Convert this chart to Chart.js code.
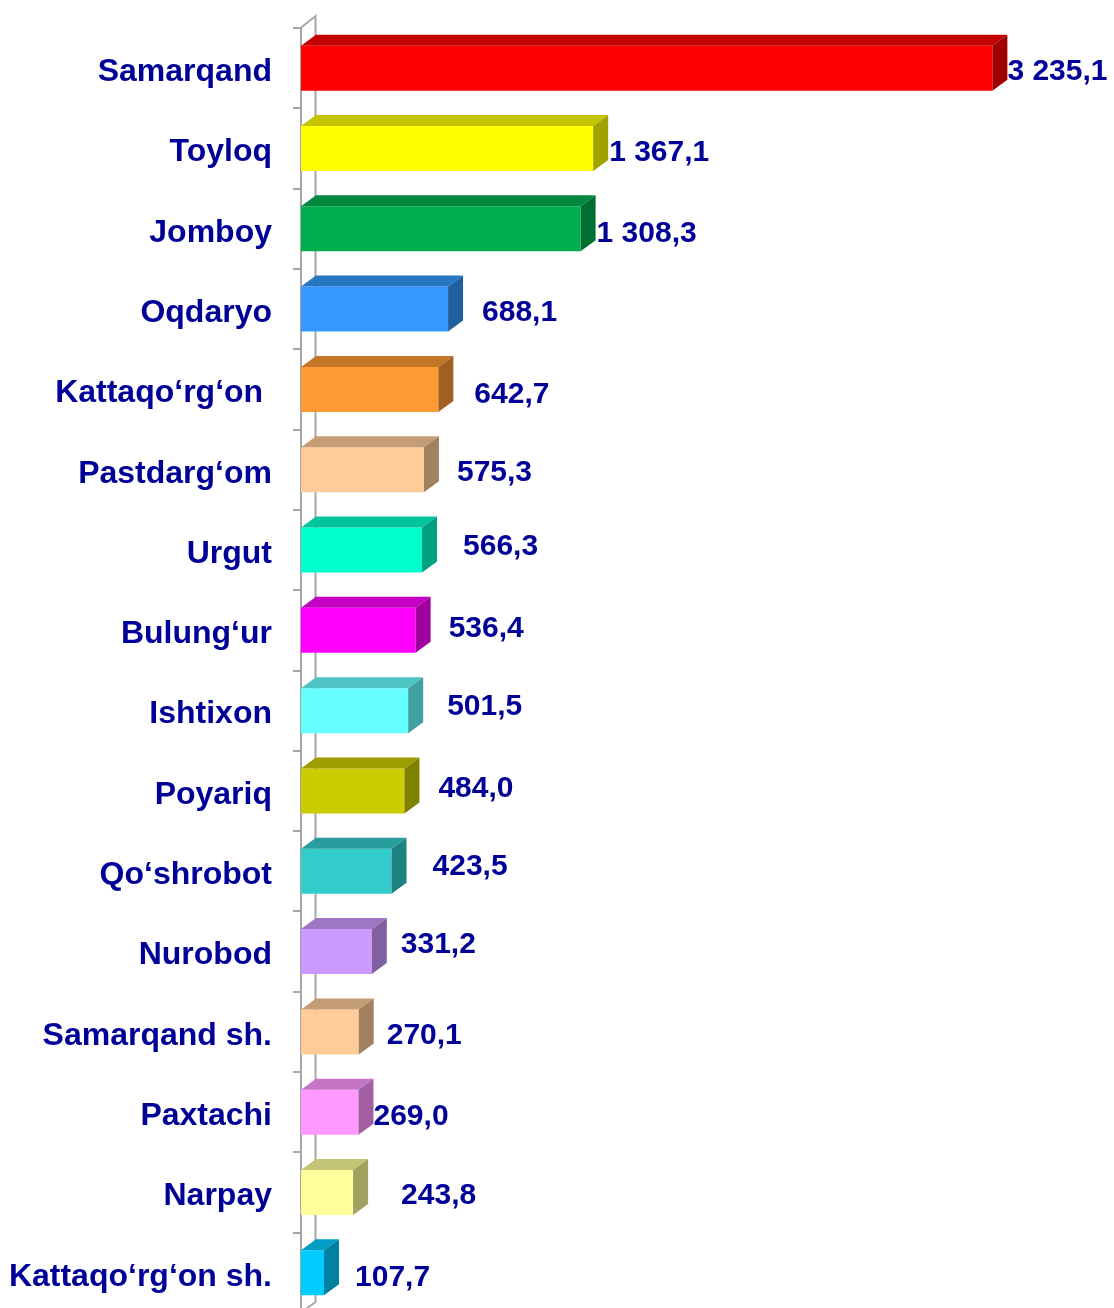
<!DOCTYPE html>
<html>
<head>
<meta charset="utf-8">
<script src="https://cdn.jsdelivr.net/npm/chart.js@4.4.1/dist/chart.umd.min.js"></script>
<style>
    html, body { margin: 0; padding: 0; background: #fff; overflow: hidden; }
    canvas { display: block; }
</style>
</head>
<body>
<canvas id="tumanChart" width="1114" height="1320"></canvas>
<script>
// Tumanlar va qiymatlar
const tumanlar = [
    'Samarqand', 'Toyloq', 'Jomboy', 'Oqdaryo', 'Kattaqo‘rg‘on ', 'Pastdarg‘om',
    'Urgut', 'Bulung‘ur', 'Ishtixon', 'Poyariq', 'Qo‘shrobot', 'Nurobod',
    'Samarqand sh.', 'Paxtachi', 'Narpay', 'Kattaqo‘rg‘on sh.'
];
const qiymatlar = [
    3235.1, 1367.1, 1308.3, 688.1, 642.7, 575.3,
    566.3, 536.4, 501.5, 484.0, 423.5, 331.2,
    270.1, 269.0, 243.8, 107.7
];
const ranglar = [
    '#FF0000', '#FFFF00', '#00B050', '#3399FF', '#FF9933', '#FFCC99',
    '#00FFCC', '#FF00FF', '#66FFFF', '#CCCC00', '#33CCCC', '#CC99FF',
    '#FFCC99', '#FF99FF', '#FFFF99', '#00CCFF'
];
// qiymat yozuvlarini qo'lda surish (px)
const yozuvSurishX = [0, 1, 1, 19, 21, 18, 26, 18, 24, 19, 26, 14, 13, 0, 33, 16];
const yozuvSurishY = [1, 1, 2, 1, 2, 0, -6, -5, -7, -5, -8, -10, 1, 2, 0, 2];

const CHUQUR_X = 15;   // 3D chuqurlik
const CHUQUR_Y = 11;
const KOK = '#000099';
const KULRANG = '#A6A6A6';
const SHRIFT = '"Liberation Sans", Arial, sans-serif';

function soyala(hex, k) {
    const n = parseInt(hex.slice(1), 16);
    const r = Math.round(((n >> 16) & 255) * k);
    const g = Math.round(((n >> 8) & 255) * k);
    const b = Math.round((n & 255) * k);
    return `rgb(${r},${g},${b})`;
}

function formatla(v) {
    const [butun, kasr] = v.toFixed(1).split('.');
    return butun.replace(/\B(?=(\d{3})+(?!\d))/g, ' ') + ',' + kasr;
}

// orqa devor chiziqlari
const devorPlugin = {
    id: 'devor',
    beforeDatasetsDraw(chart) {
        const { ctx, chartArea } = chart;
        const x0 = chartArea.left - 0.5;
        ctx.save();
        ctx.strokeStyle = KULRANG;
        ctx.lineWidth = 2;
        ctx.beginPath();
        ctx.moveTo(x0, chartArea.top);
        ctx.lineTo(x0 + CHUQUR_X, chartArea.top - CHUQUR_Y - 1);
        ctx.lineTo(x0 + CHUQUR_X, chartArea.bottom - CHUQUR_Y);
        ctx.lineTo(x0, chartArea.bottom);
        ctx.stroke();
        ctx.restore();
    }
};

// ustki va yon yuzlar, qiymat yozuvlari
const uchOlchamPlugin = {
    id: 'uchOlcham',
    afterDatasetsDraw(chart) {
        const { ctx } = chart;
        const meta = chart.getDatasetMeta(0);
        ctx.save();
        meta.data.forEach((bar, i) => {
            const p = bar.getProps(['x', 'y', 'base', 'height'], true);
            const top = p.y - p.height / 2;
            const bottom = p.y + p.height / 2;
            const rang = ranglar[i];

            ctx.fillStyle = soyala(rang, 0.77);
            ctx.beginPath();
            ctx.moveTo(p.base, top);
            ctx.lineTo(p.base + CHUQUR_X, top - CHUQUR_Y);
            ctx.lineTo(p.x + CHUQUR_X, top - CHUQUR_Y);
            ctx.lineTo(p.x, top);
            ctx.closePath();
            ctx.fill();

            ctx.fillStyle = soyala(rang, 0.63);
            ctx.beginPath();
            ctx.moveTo(p.x, top);
            ctx.lineTo(p.x + CHUQUR_X, top - CHUQUR_Y);
            ctx.lineTo(p.x + CHUQUR_X, bottom - CHUQUR_Y);
            ctx.lineTo(p.x, bottom);
            ctx.closePath();
            ctx.fill();

            ctx.fillStyle = KOK;
            ctx.font = 'bold 30px ' + SHRIFT;
            ctx.textAlign = 'left';
            ctx.textBaseline = 'middle';
            ctx.fillText(formatla(qiymatlar[i]),
                p.x + CHUQUR_X + yozuvSurishX[i],
                p.y + 3 + yozuvSurishY[i]);
        });
        ctx.restore();
    }
};

new Chart(document.getElementById('tumanChart'), {
    type: 'bar',
    data: {
        labels: tumanlar,
        datasets: [{
            data: qiymatlar,
            backgroundColor: ranglar,
            borderWidth: 0,
            barPercentage: 0.56,
            categoryPercentage: 1.0
        }]
    },
    options: {
        indexAxis: 'y',
        responsive: false,
        animation: false,
        layout: { padding: { top: 28, right: 65, bottom: 7, left: 0 } },
        scales: {
            x: { display: false, min: 0, max: 3500 },
            y: {
                afterFit(scale) {
                    scale.width = 301;
                    scale.paddingTop = 0;
                    scale.paddingBottom = 0;
                },
                border: { color: KULRANG, width: 2 },
                grid: {
                    color: KULRANG,
                    lineWidth: 2,
                    drawOnChartArea: false,
                    drawTicks: true,
                    tickLength: 8,
                    offset: true
                },
                ticks: {
                    color: KOK,
                    padding: 21,
                    labelOffset: 4,
                    font: { family: SHRIFT, size: 32, weight: 'bold' }
                }
            }
        },
        plugins: {
            legend: { display: false },
            tooltip: { enabled: false }
        }
    },
    plugins: [devorPlugin, uchOlchamPlugin]
});
</script>
</body>
</html>
